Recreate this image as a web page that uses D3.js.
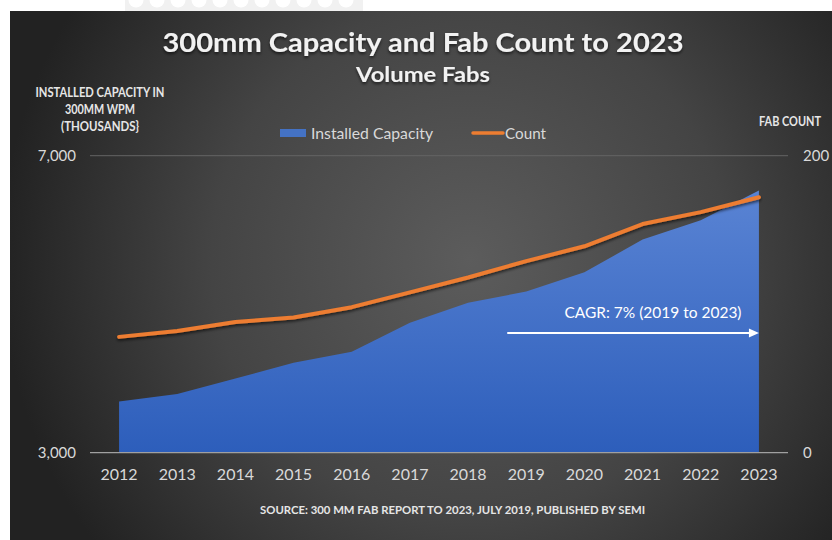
<!DOCTYPE html>
<html>
<head>
<meta charset="utf-8">
<script src="https://cdn.jsdelivr.net/npm/d3@7"></script>
<style>
  body { margin: 0; background: #ffffff; }
  svg { display: block; }
  text { font-family: Lato, "Open Sans", sans-serif; }
</style>
</head>
<body>
<div id="vis"></div>
<script>
const FRAME_WIDTH = 832;
const FRAME_HEIGHT = 540;
const PLOT = {left: 90, right: 788, top: 155.7, bottom: 452.7};

// data
const years = ["2012", "2013", "2014", "2015", "2016", "2017",
               "2018", "2019", "2020", "2021", "2022", "2023"];
const capacity = [3690, 3790, 4000, 4210, 4360, 4750, 5020, 5170, 5430, 5870, 6130, 6530];
const fabCount = [78, 82, 88, 91, 98, 108, 118, 129, 139, 154, 162, 172];
const leftTicks = [3000, 7000];
const rightTicks = [0, 200];
const cagrLabel = "CAGR: 7% (2019 to 2023)";
const cagrSpan = ["2019", "2023"];

const svg = d3.select("#vis")
  .append("svg")
    .attr("width", FRAME_WIDTH)
    .attr("height", FRAME_HEIGHT);

const defs = svg.append("defs");

const bg = defs.append("radialGradient")
  .attr("id", "bg")
  .attr("gradientUnits", "userSpaceOnUse")
  .attr("cx", 470).attr("cy", 260).attr("r", 470);
bg.append("stop").attr("offset", "0%").attr("stop-color", "#5c5c5c");
bg.append("stop").attr("offset", "55%").attr("stop-color", "#444444");
bg.append("stop").attr("offset", "100%").attr("stop-color", "#222222");

const areaGrad = defs.append("linearGradient")
  .attr("id", "areaGrad")
  .attr("gradientUnits", "userSpaceOnUse")
  .attr("x1", 0).attr("y1", PLOT.top + 30).attr("x2", 0).attr("y2", PLOT.bottom);
areaGrad.append("stop").attr("offset", "0%").attr("stop-color", "#5a84d4");
areaGrad.append("stop").attr("offset", "100%").attr("stop-color", "#2d5ebb");

const shadow = defs.append("filter").attr("id", "shadow")
  .attr("x", "-5%").attr("y", "-20%").attr("width", "110%").attr("height", "160%");
shadow.append("feDropShadow")
  .attr("dx", 0).attr("dy", 2).attr("stdDeviation", 1.5)
  .attr("flood-color", "#000").attr("flood-opacity", 0.6);

// white strip with faint circles at the top edge
svg.append("rect").attr("x", 125).attr("y", 0).attr("width", 238).attr("height", 11)
  .attr("fill", "#f1f1f1");
svg.selectAll("circle.dot")
  .data(d3.range(11))
  .enter()
  .append("circle")
    .attr("cx", (d) => 136 + d * 21)
    .attr("cy", 0)
    .attr("r", 7.5)
    .attr("fill", "#ffffff");

svg.append("rect")
  .attr("x", 10).attr("y", 11)
  .attr("width", FRAME_WIDTH - 10).attr("height", FRAME_HEIGHT - 11)
  .attr("fill", "url(#bg)");

const X = d3.scaleBand().domain(years).range([PLOT.left, PLOT.right]);
const xc = (d) => X(d) + X.bandwidth() / 2;
const Y_LEFT = d3.scaleLinear().domain([3000, 7000]).range([PLOT.bottom, PLOT.top]);
const Y_RIGHT = d3.scaleLinear().domain([0, 200]).range([PLOT.bottom, PLOT.top]);

// gridline at top
svg.append("line")
  .attr("x1", PLOT.left).attr("x2", PLOT.right)
  .attr("y1", Y_LEFT(7000)).attr("y2", Y_LEFT(7000))
  .attr("stroke", "#646464").attr("stroke-width", 1);

// area
const area = d3.area()
  .x((d, i) => xc(years[i]))
  .y0(Y_LEFT(3000))
  .y1((d) => Y_LEFT(d));

svg.append("path")
  .datum(capacity)
  .attr("d", area)
  .attr("fill", "url(#areaGrad)");

// bottom axis line
svg.append("line")
  .attr("x1", PLOT.left).attr("x2", PLOT.right)
  .attr("y1", Y_LEFT(3000)).attr("y2", Y_LEFT(3000))
  .attr("stroke", "#a0a0a0").attr("stroke-width", 1.2);

// count line
const line = d3.line()
  .x((d, i) => xc(years[i]))
  .y((d) => Y_RIGHT(d));

svg.append("path")
  .datum(fabCount)
  .attr("d", line)
  .attr("fill", "none")
  .attr("stroke", "#ed7d31")
  .attr("stroke-width", 4)
  .attr("stroke-linecap", "round")
  .attr("stroke-linejoin", "round")
  .attr("filter", "url(#shadow)");

// axes
const styleAxis = (g, size) => {
  g.select(".domain").remove();
  g.selectAll("line").remove();
  g.selectAll("text").attr("fill", "#d9d9d9").attr("font-size", size);
};

svg.append("g")
  .attr("transform", "translate(0," + PLOT.bottom + ")")
  .call(d3.axisBottom(X).tickSize(0).tickPadding(16))
  .call(styleAxis, "16px");

svg.append("g")
  .attr("transform", "translate(" + PLOT.left + ",0)")
  .call(d3.axisLeft(Y_LEFT).tickValues(leftTicks).tickFormat(d3.format(",")).tickSize(0).tickPadding(14))
  .call(styleAxis, "15px");

svg.append("g")
  .attr("transform", "translate(" + PLOT.right + ",0)")
  .call(d3.axisRight(Y_RIGHT).tickValues(rightTicks).tickSize(0).tickPadding(15))
  .call(styleAxis, "15px");

// titles
svg.append("text")
  .attr("x", 423).attr("y", 52)
  .attr("text-anchor", "middle")
  .attr("font-size", "26px").attr("font-weight", "bold")
  .attr("fill", "#f2f2f2")
  .attr("textLength", 521).attr("lengthAdjust", "spacingAndGlyphs")
  .attr("filter", "url(#shadow)")
  .text("300mm Capacity and Fab Count to 2023");

svg.append("text")
  .attr("x", 423).attr("y", 82)
  .attr("text-anchor", "middle")
  .attr("font-size", "20px").attr("font-weight", "bold")
  .attr("fill", "#f2f2f2")
  .attr("textLength", 134).attr("lengthAdjust", "spacingAndGlyphs")
  .attr("filter", "url(#shadow)")
  .text("Volume Fabs");

// axis titles
const leftTitle = [["INSTALLED CAPACITY IN", 97, 129], ["300MM WPM", 114, 70], ["(THOUSANDS}", 131, 78]];
svg.selectAll("text.ltitle")
  .data(leftTitle)
  .enter()
  .append("text")
    .attr("x", 100)
    .attr("y", (d) => d[1])
    .attr("text-anchor", "middle")
    .attr("font-size", "13px").attr("font-weight", "bold")
    .attr("fill", "#e6e6e6")
    .attr("textLength", (d) => d[2]).attr("lengthAdjust", "spacingAndGlyphs")
    .text((d) => d[0]);

svg.append("text")
  .attr("x", 790).attr("y", 126)
  .attr("text-anchor", "middle")
  .attr("font-size", "12.5px").attr("font-weight", "bold")
  .attr("fill", "#e6e6e6")
  .attr("textLength", 62).attr("lengthAdjust", "spacingAndGlyphs")
  .text("FAB COUNT");

// legend
svg.append("rect")
  .attr("x", 280).attr("y", 129).attr("width", 26).attr("height", 8)
  .attr("fill", "#4472c4");
svg.append("text")
  .attr("x", 311).attr("y", 139)
  .attr("font-size", "16px").attr("fill", "#d9d9d9")
  .attr("textLength", 122).attr("lengthAdjust", "spacingAndGlyphs")
  .text("Installed Capacity");
svg.append("line")
  .attr("x1", 473).attr("x2", 503).attr("y1", 133).attr("y2", 133)
  .attr("stroke", "#ed7d31").attr("stroke-width", 3.5).attr("stroke-linecap", "round");
svg.append("text")
  .attr("x", 505).attr("y", 139)
  .attr("font-size", "16px").attr("fill", "#d9d9d9")
  .attr("textLength", 41).attr("lengthAdjust", "spacingAndGlyphs")
  .text("Count");

// CAGR annotation
const arrowY = 333;
const ax1 = xc(cagrSpan[0]) - 19;
const ax2 = xc(cagrSpan[1]);
svg.append("line")
  .attr("x1", ax1).attr("x2", ax2 - 8)
  .attr("y1", arrowY).attr("y2", arrowY)
  .attr("stroke", "#ffffff").attr("stroke-width", 2);
svg.append("path")
  .attr("d", "M" + (ax2 - 10) + "," + (arrowY - 4.5) + "L" + ax2 + "," + arrowY + "L" + (ax2 - 10) + "," + (arrowY + 4.5) + "Z")
  .attr("fill", "#ffffff");
svg.append("text")
  .attr("x", 653).attr("y", 318)
  .attr("text-anchor", "middle")
  .attr("font-size", "15px").attr("fill", "#ffffff")
  .attr("textLength", 177).attr("lengthAdjust", "spacingAndGlyphs")
  .text(cagrLabel);

// source
svg.append("text")
  .attr("x", 452.5).attr("y", 514)
  .attr("text-anchor", "middle")
  .attr("font-size", "12px").attr("font-weight", "bold")
  .attr("fill", "#e6e6e6")
  .attr("textLength", 385).attr("lengthAdjust", "spacingAndGlyphs")
  .text("SOURCE: 300 MM FAB REPORT TO 2023, JULY 2019, PUBLISHED BY SEMI");
</script>
</body>
</html>
